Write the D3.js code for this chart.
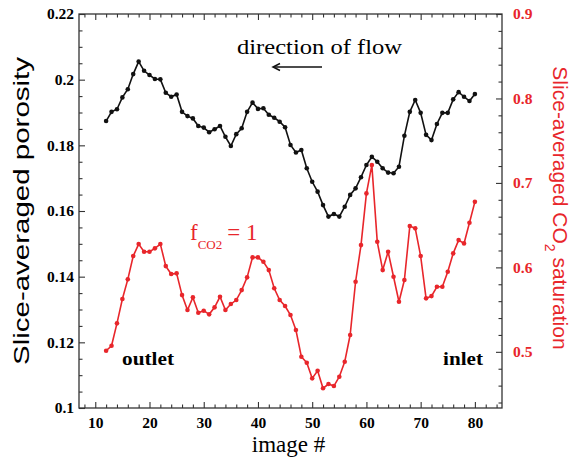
<!DOCTYPE html>
<html>
<head>
<meta charset="utf-8">
<script src="https://cdn.jsdelivr.net/npm/d3@7"></script>
<style>
  body { margin: 0; background: #fff; }
  .tick text { font-family: "Liberation Serif", serif; font-weight: bold; font-size: 15.5px; }
</style>
</head>
<body>
<div id="chart"></div>
<script>
// image numbers along the core
const imageNo = [12,13,14,15,16,17,18,19,20,21,22,23,24,25,26,27,28,29,30,31,32,33,34,35,36,37,38,39,40,
  41,42,43,44,45,46,47,48,49,50,51,52,53,54,55,56,57,58,59,60,61,62,63,64,65,66,67,68,69,70,
  71,72,73,74,75,76,77,78,79,80];

// slice-averaged porosity (left axis)
const porosity = [0.1874,0.1902,0.1910,0.1946,0.1971,0.2017,0.2055,0.2027,0.2014,0.2002,0.2001,0.1960,
  0.1948,0.1955,0.1902,0.1889,0.1882,0.1859,0.1854,0.1840,0.1849,0.1859,0.1826,0.1798,0.1834,0.1852,
  0.1902,0.1930,0.1911,0.1913,0.1893,0.1884,0.1872,0.1855,0.1801,0.1778,0.1786,0.1730,0.1689,0.1659,
  0.1618,0.1583,0.1591,0.1583,0.1613,0.1649,0.1669,0.1703,0.1740,0.1765,0.1750,0.1730,0.1717,0.1715,
  0.1735,0.1829,0.1902,0.1938,0.1899,0.1832,0.1816,0.1865,0.1899,0.1899,0.1940,0.1962,0.1948,0.1935,0.1956];

// slice-averaged CO2 saturation (right axis)
const saturation = [0.5013,0.5072,0.5337,0.5625,0.5858,0.6134,0.6276,0.6185,0.6185,0.6225,0.6276,0.6015,
  0.5921,0.5929,0.5672,0.5495,0.5645,0.5463,0.5487,0.5444,0.5527,0.5652,0.5495,0.5566,0.5613,0.5731,
  0.5882,0.6118,0.6118,0.6066,0.5968,0.5752,0.5613,0.5542,0.5436,0.5258,0.4942,0.4871,0.4686,0.4776,
  0.4568,0.4619,0.4595,0.4705,0.4883,0.5199,0.5830,0.6264,0.6876,0.7211,0.6303,0.5968,0.6185,0.5889,
  0.5593,0.5850,0.6489,0.6462,0.6134,0.5633,0.5660,0.5770,0.5770,0.5948,0.6166,0.6323,0.6284,0.6528,0.6776];

const xTicks = [10,20,30,40,50,60,70,80];
const leftTicks = [0.1,0.12,0.14,0.16,0.18,0.2,0.22];
const rightTicks = [0.5,0.6,0.7,0.8,0.9];

const W = 581, H = 464;
const m = {left: 79, right: 79, top: 14, bottom: 56};
const red = "#e8262b";

const svg = d3.select("#chart").append("svg")
  .attr("width", W).attr("height", H);

const x  = d3.scaleLinear().domain([7, 85]).range([m.left, W - m.right]);
const yL = d3.scaleLinear().domain([0.1, 0.22]).range([H - m.bottom, m.top]);
const yR = d3.scaleLinear().domain([0.4335, 0.9]).range([H - m.bottom, m.top]);

const minorX = d3.range(8, 85, 2).filter(v => v % 10 !== 0);
const minorL = d3.range(0.105, 0.22, 0.005).filter(v => Math.abs(v * 50 - Math.round(v * 50)) > 1e-6);
const minorR = d3.range(0.44, 0.9, 0.02).filter(v => Math.abs(v * 10 - Math.round(v * 10)) > 1e-6);

// axes, ticks pointing into the plot
function axis(gen, tx, ty, vals, size, fmt) {
  const g = svg.append("g").attr("transform", `translate(${tx},${ty})`)
    .call(gen.tickValues(vals).tickSizeInner(size).tickSizeOuter(0).tickPadding(5).tickFormat(fmt));
  g.select(".domain").remove();
  g.selectAll(".tick line").attr("stroke", "#333").attr("stroke-width", 1.1);
  return g;
}
const bottom = H - m.bottom, right = W - m.right;
axis(d3.axisBottom(x), 0, bottom, xTicks, -6, d3.format("d")).selectAll("text").attr("dy", "0.95em");
axis(d3.axisBottom(x), 0, bottom, minorX, -3.5, () => "");
axis(d3.axisTop(x), 0, m.top, xTicks, -6, () => "");
axis(d3.axisTop(x), 0, m.top, minorX, -3.5, () => "");
axis(d3.axisLeft(yL), m.left, 0, leftTicks, -6, d => String(+d.toFixed(2)));
axis(d3.axisLeft(yL), m.left, 0, minorL, -3.5, () => "");
axis(d3.axisRight(yR), right, 0, rightTicks, -6, d => String(+d.toFixed(1)))
  .selectAll("text").attr("fill", red).attr("dx", "6");
axis(d3.axisRight(yR), right, 0, minorR, -3.5, () => "");

svg.append("rect")
  .attr("x", m.left).attr("y", m.top)
  .attr("width", right - m.left).attr("height", bottom - m.top)
  .attr("fill", "none").attr("stroke", "#333").attr("stroke-width", 1.3);

// series
const poroPts = imageNo.map((n, i) => [n, porosity[i]]);
const satPts = imageNo.map((n, i) => [n, saturation[i]]);

svg.append("path").datum(satPts)
  .attr("fill", "none").attr("stroke", red).attr("stroke-width", 1.6)
  .attr("d", d3.line().x(d => x(d[0])).y(d => yR(d[1])));
svg.append("g").selectAll("circle").data(satPts).join("circle")
  .attr("cx", d => x(d[0])).attr("cy", d => yR(d[1])).attr("r", 2.3).attr("fill", red);

svg.append("path").datum(poroPts)
  .attr("fill", "none").attr("stroke", "#111").attr("stroke-width", 1.6)
  .attr("d", d3.line().x(d => x(d[0])).y(d => yL(d[1])));
svg.append("g").selectAll("circle").data(poroPts).join("circle")
  .attr("cx", d => x(d[0])).attr("cy", d => yL(d[1])).attr("r", 2.3).attr("fill", "#111");

// axis titles
svg.append("text")
  .attr("transform", `translate(${(m.left + right) / 2 - 2},452)`)
  .attr("text-anchor", "middle")
  .style("font-family", "Liberation Serif, serif").style("font-size", "23px")
  .text("image #");

svg.append("text")
  .attr("transform", "translate(29,211) rotate(-90)")
  .attr("text-anchor", "middle")
  .attr("textLength", 308).attr("lengthAdjust", "spacingAndGlyphs")
  .style("font-family", "Liberation Sans, Arial, sans-serif").style("font-size", "22px")
  .text("Slice-averaged porosity");

const rt = svg.append("text")
  .attr("transform", "translate(553,208) rotate(90)")
  .attr("text-anchor", "middle")
  .attr("fill", red)
  .style("font-family", "Liberation Sans, Arial, sans-serif").style("font-size", "21px");
rt.append("tspan").text("Slice-averaged CO");
rt.append("tspan").attr("dy", 8).style("font-size", "14px").text("2");
rt.append("tspan").attr("dy", -8).text(" saturation");

// annotations
svg.append("text").attr("x", 237).attr("y", 54)
  .attr("textLength", 165).attr("lengthAdjust", "spacingAndGlyphs")
  .style("font-family", "Liberation Serif, serif").style("font-size", "22px")
  .text("direction of flow");
svg.append("line").attr("x1", 322).attr("x2", 274).attr("y1", 67).attr("y2", 67)
  .attr("stroke", "#111").attr("stroke-width", 1.5);
svg.append("path").attr("d", "M280,63.5 L273,67 L280,70.5")
  .attr("fill", "none").attr("stroke", "#111").attr("stroke-width", 1.5);

const ft = svg.append("text").attr("x", 190).attr("y", 240).attr("fill", red)
  .style("font-family", "Liberation Serif, serif").style("font-size", "23px");
ft.append("tspan").text("f");
ft.append("tspan").attr("dy", 9).style("font-size", "13px").text("CO2");
ft.append("tspan").attr("dy", -9).attr("dx", 5).text("= 1");

svg.append("text").attr("x", 122).attr("y", 365)
  .attr("textLength", 52).attr("lengthAdjust", "spacingAndGlyphs")
  .style("font-family", "Liberation Serif, serif").style("font-weight", "bold").style("font-size", "19px")
  .text("outlet");
svg.append("text").attr("x", 443).attr("y", 365)
  .attr("textLength", 40).attr("lengthAdjust", "spacingAndGlyphs")
  .style("font-family", "Liberation Serif, serif").style("font-weight", "bold").style("font-size", "19px")
  .text("inlet");
</script>
</body>
</html>
